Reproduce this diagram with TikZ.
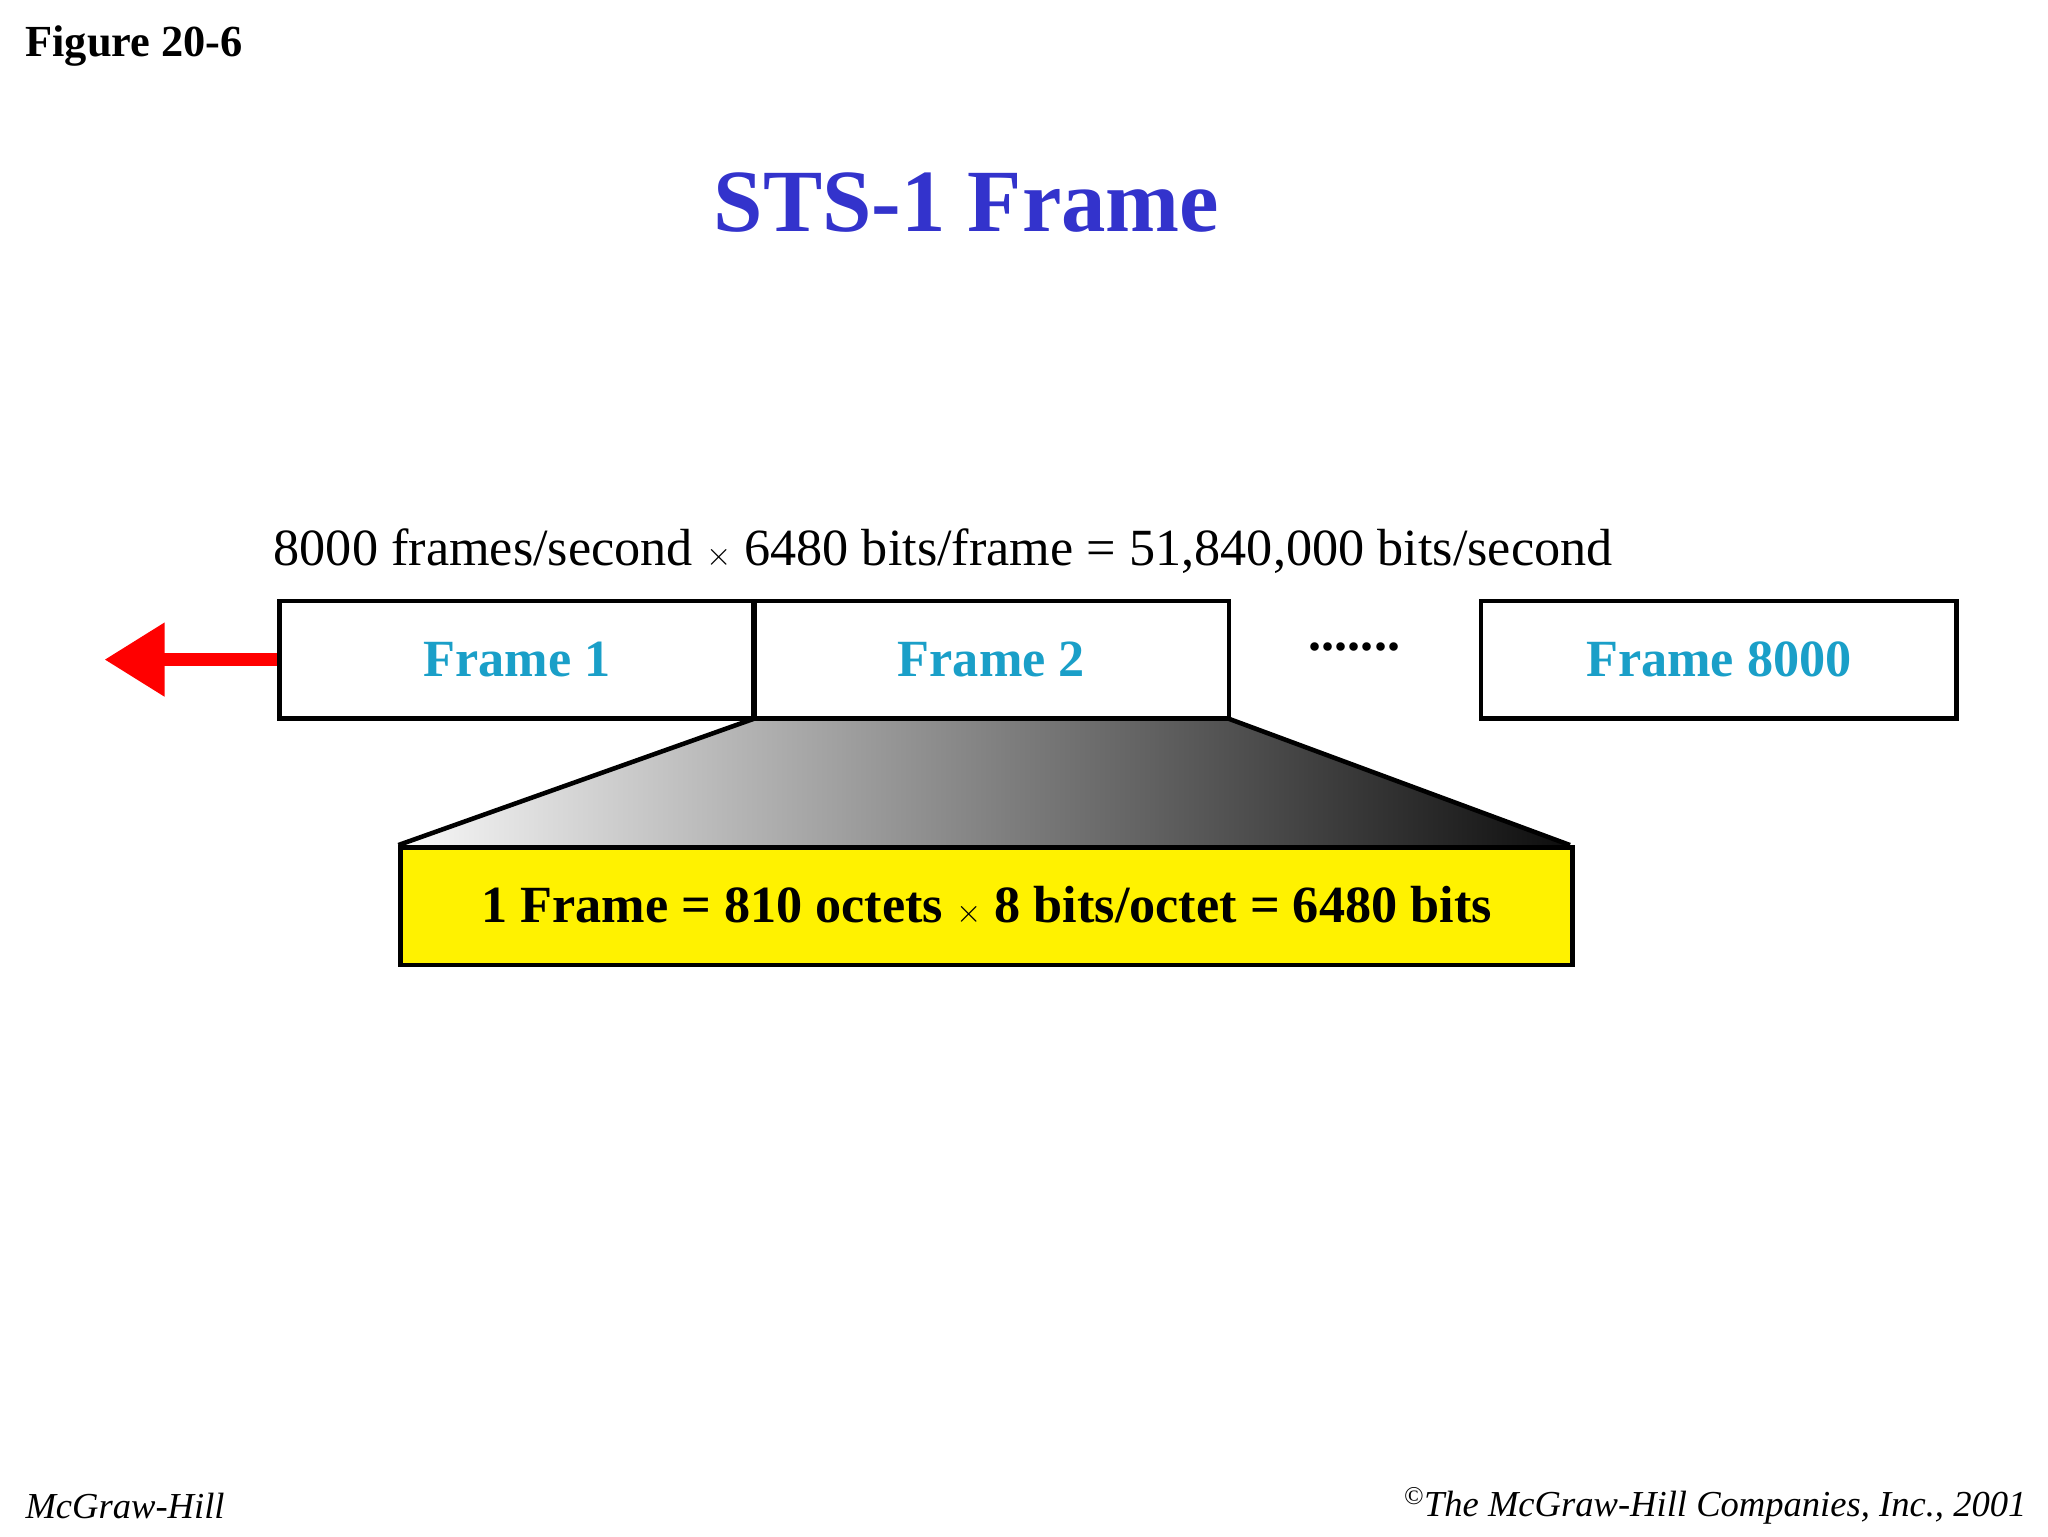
\documentclass[tikz,border=0pt]{standalone}
\usepackage{fontspec}
\setmainfont{Liberation Serif}
\usetikzlibrary{arrows.meta}
\definecolor{fcyan}{HTML}{1A9FC8}
\definecolor{tblue}{HTML}{3333CC}
\begin{document}
\begin{tikzpicture}[x=1pt,y=-1pt,
  framebox/.style={draw=black,line width=3.5pt,minimum width=364pt,minimum height=90pt,inner sep=0pt,font=\fontsize{40}{44}\selectfont\bfseries,text=fcyan}]
\useasboundingbox (0,0) rectangle (1568,1176);
\node[anchor=west,font=\fontsize{34}{38}\selectfont\bfseries] (fig) at (16,35) {Figure 20-6};
\node[font=\fontsize{68}{72}\selectfont\bfseries,text=tblue] (title) at (740,155) {STS-1 Frame};
\node[anchor=west,font=\fontsize{40}{44}\selectfont] (eq) at (206,422) {8000 frames/second $\times$ 6480 bits/frame = 51,840,000 bits/second};
\fill[left color=white!95!gray,right color=black!95] (578,550) -- (940,550) -- (1202,647) -- (305,647) -- cycle;
\draw[line width=3.5pt,line join=miter] (578,550) -- (305,647) (940,550) -- (1202,647);
\node[framebox] (f1) at (396,505) {Frame 1};
\node[framebox] (f2) at (759,505) {Frame 2};
\node[framebox] (f3) at (1316,505) {Frame 8000};
\node[font=\fontsize{40}{44}\selectfont\bfseries] (dots) at (1037,495) {.......};
\coordinate (arr) at (80,505);
\draw[red,line width=10pt,-{Triangle[length=46pt,width=54pt]}] (f1.west) -- (arr);
\node[draw=black,fill=yellow,line width=3.5pt,minimum width=897pt,minimum height=90pt,font=\fontsize{40}{44}\selectfont\bfseries,anchor=north west] (y) at (305,647) {1 Frame = 810 octets $\times$ 8 bits/octet = 6480 bits};
\node[anchor=west,font=\fontsize{28}{30}\selectfont\itshape] (mh) at (16,1153) {McGraw-Hill};
\node[anchor=east,font=\fontsize{28}{30}\selectfont\itshape] (cp) at (1555,1153) {\textsuperscript{©}The McGraw-Hill Companies, Inc., 2001};
\end{tikzpicture}
\end{document}
